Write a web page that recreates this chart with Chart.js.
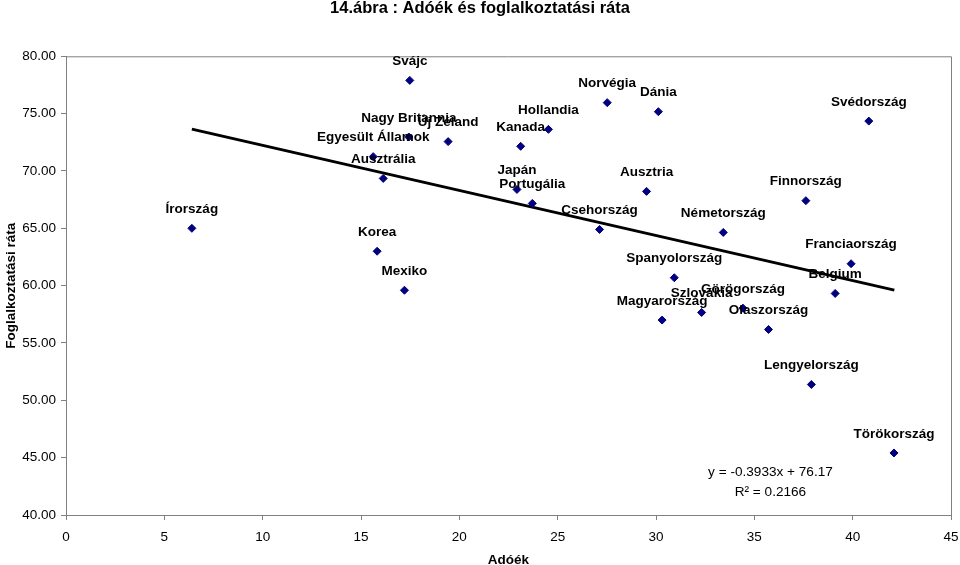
<!DOCTYPE html>
<html>
<head>
<meta charset="utf-8">
<script src="https://cdn.jsdelivr.net/npm/chart.js@4.4.1/dist/chart.umd.min.js"></script>
<style>
  html, body { margin: 0; padding: 0; background: #ffffff; }
  #wrap { width: 960px; height: 565px; position: relative; }
</style>
</head>
<body>
<div id="wrap"><canvas id="c" width="960" height="565"></canvas></div>
<script>
// ---- Data ----
const countries = [
  "Írország", "Svájc", "Nagy Britannia", "Új Zéland", "Egyesült Államok",
  "Ausztrália", "Korea", "Mexiko", "Kanada", "Hollandia", "Japán",
  "Portugália", "Norvégia", "Dánia", "Ausztria", "Csehország",
  "Németország", "Spanyolország", "Szlovákia", "Magyarország",
  "Görögország", "Olaszország", "Finnország", "Svédország",
  "Franciaország", "Belgium", "Lengyelország", "Törökország"
];
const taxWedge = [
  6.40, 17.48, 17.43, 19.43, 15.62,
  16.13, 15.82, 17.21, 23.12, 24.53, 22.93,
  23.71, 27.52, 30.12, 29.52, 27.13,
  33.42, 30.93, 32.32, 30.31,
  34.42, 35.72, 37.62, 40.82,
  39.92, 39.11, 37.90, 42.10
];
const employmentRate = [
  65.00, 77.90, 72.96, 72.56, 71.25,
  69.35, 63.00, 59.60, 72.15, 73.63, 68.39,
  67.17, 75.96, 75.17, 68.22, 64.90,
  64.64, 60.69, 57.66, 57.00,
  58.04, 56.18, 67.41, 74.35,
  61.91, 59.32, 51.38, 45.41
];
// Linear trendline endpoints (as drawn in the reference)
const trendX = [6.40, 42.12];
const trendY = [73.65, 59.61];
const equationLines = ["y = -0.3933x + 76.17", "R\u00B2 = 0.2166"];
const chartTitle = "14.ábra : Adóék és foglalkoztatási ráta";
const xTitle = "Adóék";
const yTitle = "Foglalkoztatási ráta";
const xTicks = [0, 5, 10, 15, 20, 25, 30, 35, 40, 45];
const yTicks = [40, 45, 50, 55, 60, 65, 70, 75, 80];

// ---- Rendering ----
const FONT = 'Arial, "Liberation Sans", Helvetica, sans-serif';
const GRAY = '#808080';

const points = countries.map((c, i) => ({ x: taxWedge[i], y: employmentRate[i] }));
const trend = trendX.map((v, i) => ({ x: v, y: trendY[i] }));

const overlayPlugin = {
  id: 'overlay',
  beforeDatasetsDraw(chart) {
    const { ctx, chartArea: a } = chart;
    ctx.save();
    ctx.strokeStyle = GRAY;
    ctx.lineWidth = 1;
    ctx.beginPath();
    ctx.moveTo(a.left, a.top + 0.5);
    ctx.lineTo(a.right + 0.5, a.top + 0.5);
    ctx.lineTo(a.right + 0.5, a.bottom);
    ctx.stroke();
    ctx.restore();
  },
  afterDatasetsDraw(chart) {
    const { ctx, scales: { x, y } } = chart;
    ctx.save();
    ctx.fillStyle = '#000000';
    ctx.textAlign = 'center';
    ctx.textBaseline = 'middle';
    ctx.font = 'bold 13.5px ' + FONT;
    countries.forEach((name, i) => {
      ctx.fillText(name, x.getPixelForValue(taxWedge[i]), y.getPixelForValue(employmentRate[i]) - 19);
    });
    ctx.font = '13.6px ' + FONT;
    const ex = x.getPixelForValue(35.82);
    const ey = y.getPixelForValue(43.70);
    ctx.fillText(equationLines[0], ex, ey);
    ctx.fillText(equationLines[1], ex, ey + 20);
    ctx.restore();
  }
};

new Chart(document.getElementById('c'), {
  type: 'scatter',
  data: {
    datasets: [
      {
        label: 'Országok',
        data: points,
        pointStyle: 'rectRot',
        pointRadius: 4,
        pointHoverRadius: 4,
        backgroundColor: '#000080',
        borderColor: '#000080',
        borderWidth: 1,
        order: 1
      },
      {
        type: 'line',
        label: 'Trend',
        data: trend,
        borderColor: '#000000',
        borderWidth: 3,
        pointRadius: 0,
        fill: false,
        tension: 0,
        order: 2
      }
    ]
  },
  options: {
    responsive: false,
    animation: false,
    events: [],
    layout: { padding: { left: 0, right: 0, top: 0, bottom: 0 } },
    plugins: {
      legend: { display: false },
      tooltip: { enabled: false },
      title: {
        display: true,
        text: chartTitle,
        color: '#000000',
        font: { family: FONT, size: 16.5, weight: 'bold' },
        padding: { top: -1, bottom: 37.5 }
      }
    },
    scales: {
      x: {
        type: 'linear',
        min: 0, max: 45,
        afterBuildTicks(s) { s.ticks = xTicks.map(v => ({ value: v })); },
        afterFit(s) { s.height = 50; s.paddingRight = 9; s.paddingLeft = 0; },
        ticks: {
          color: '#000000',
          font: { family: FONT, size: 13.5 },
          padding: 9,
          maxRotation: 0,
          callback: v => String(v)
        },
        grid: { drawOnChartArea: false, drawTicks: true, tickLength: 5, color: GRAY },
        border: { display: true, color: GRAY, width: 1 },
        title: {
          display: true,
          text: xTitle,
          color: '#000000',
          font: { family: FONT, size: 13.5, weight: 'bold' },
          padding: { top: 0, bottom: -3 }
        }
      },
      y: {
        type: 'linear',
        min: 40, max: 80,
        afterBuildTicks(s) { s.ticks = yTicks.map(v => ({ value: v })); },
        afterFit(s) { s.width = 66; },
        ticks: {
          color: '#000000',
          font: { family: FONT, size: 13.5 },
          padding: 5,
          callback: v => Number(v).toFixed(2)
        },
        grid: { drawOnChartArea: false, drawTicks: true, tickLength: 5, color: GRAY },
        border: { display: true, color: GRAY, width: 1 },
        title: {
          display: true,
          text: yTitle,
          color: '#000000',
          font: { family: FONT, size: 13.5, weight: 'bold' },
          padding: { top: 3, bottom: 0 }
        }
      }
    }
  },
  plugins: [overlayPlugin]
});
</script>
</body>
</html>
